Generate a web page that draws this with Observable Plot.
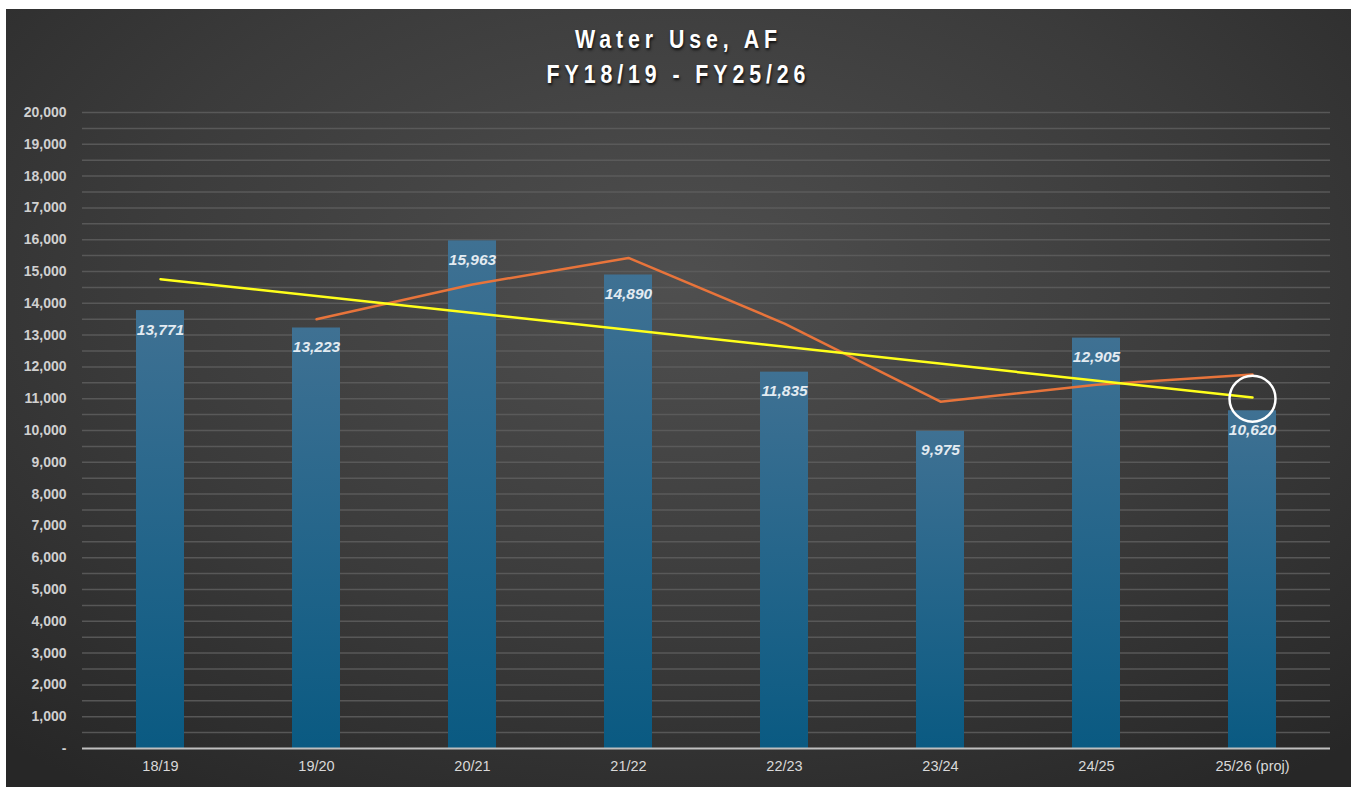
<!DOCTYPE html>
<html>
<head>
<meta charset="utf-8">
<script src="https://cdn.jsdelivr.net/npm/d3@7"></script>
<script src="https://cdn.jsdelivr.net/npm/@observablehq/plot@0.6"></script>
<style>
  html, body { margin: 0; padding: 0; background: #ffffff; }
  #frame {
    position: absolute; left: 6px; top: 9px; width: 1345px; height: 778px;
    background: radial-gradient(ellipse 75% 80% at 50% 35%, #4f4f4f 0%, #3b3b3b 55%, #272727 100%);
    overflow: hidden;
    font-family: "Liberation Sans", Arial, sans-serif;
  }
  .title {
    position: absolute; left: 0; width: 100%; text-align: center;
    color: #ffffff; font-weight: bold; font-size: 26px; letter-spacing: 6px;
    text-shadow: 1px 2px 3px rgba(0,0,0,0.8);
    transform: scaleX(0.82); transform-origin: 50% 50%;
    font-family: "Liberation Sans", Arial, sans-serif;
  }
  #chart { position: absolute; left: 0; top: 81px; }
</style>
</head>
<body>
<div id="frame">
  <div class="title" style="top:15px;">Water Use, AF</div>
  <div class="title" style="top:50px;">FY18/19 - FY25/26</div>
  <div id="chart"></div>
</div>
<script>
// ---- data ----
const categories = ["18/19", "19/20", "20/21", "21/22", "22/23", "23/24", "24/25", "25/26 (proj)"];
const waterUse = [13771, 13223, 15963, 14890, 11835, 9975, 12905, 10620];
// orange line (2-period moving average), starts at 19/20
const avgCategories = ["19/20", "20/21", "21/22", "22/23", "23/24", "24/25", "25/26 (proj)"];
const avgValues = [13497, 14593, 15427, 13363, 10905, 11440, 11763];
// yellow trend line endpoints
const trendCategories = ["18/19", "25/26 (proj)"];
const trendValues = [14759, 11037];
// highlight circle
const circleCategories = ["25/26 (proj)"];
const circleValues = [11000];
const yTicks = d3.range(0, 20001, 1000);
const gridTicks = d3.range(500, 20001, 500);

const bars = categories.map((c, i) => ({cat: c, value: waterUse[i]}));
const avg = avgCategories.map((c, i) => ({cat: c, value: avgValues[i]}));
const trend = trendCategories.map((c, i) => ({cat: c, value: trendValues[i]}));
const circ = circleCategories.map((c, i) => ({cat: c, value: circleValues[i]}));

const plot = Plot.plot({
  width: 1345,
  height: 697,
  marginTop: 22,
  marginBottom: 39,
  marginLeft: 76,
  marginRight: 21,
  style: {background: "transparent", color: "#d9d9d9", fontFamily: "'Liberation Sans', Arial, sans-serif", overflow: "visible"},
  x: {domain: categories, paddingInner: 0.69, paddingOuter: 0.345, label: null},
  y: {domain: [0, 20000], label: null},
  marks: [
    Plot.ruleY(gridTicks, {stroke: "#5e5e5e", strokeWidth: 1.5, strokeOpacity: 0.85}),
    Plot.barY(bars, {x: "cat", y: "value", fill: "url(#barGrad)"}),
    Plot.ruleY([0], {stroke: "#bfbfbf", strokeWidth: 2}),
    Plot.axisY({ticks: yTicks, tickSize: 0, tickPadding: 16, fontSize: 14, fontWeight: "bold", fill: "#d0d0d0",
      tickFormat: d => d === 0 ? "-" : d3.format(",")(d)}),
    Plot.axisX({tickSize: 0, tickPadding: 12, fontSize: 14.5, fill: "#d9d9d9"}),
    Plot.text(bars, {x: "cat", y: "value", text: d => d3.format(",")(d.value), dy: 19,
      fill: "#e3ebf1", fontSize: 15.5, fontWeight: "bold", fontStyle: "italic"}),
    Plot.line(avg, {x: "cat", y: "value", stroke: "#e8743b", strokeWidth: 2.5}),
    Plot.line(trend, {x: "cat", y: "value", stroke: "#ffff1a", strokeWidth: 2.5}),
    Plot.dot(circ, {x: "cat", y: "value", r: 23, stroke: "#ffffff", strokeWidth: 2.5, fill: "none"})
  ]
});

const defs = d3.select(plot).insert("defs", ":first-child");
const g = defs.append("linearGradient").attr("id", "barGrad").attr("x1", 0).attr("y1", 0).attr("x2", 0).attr("y2", 1);
g.append("stop").attr("offset", "0%").attr("stop-color", "#3f7193");
g.append("stop").attr("offset", "100%").attr("stop-color", "#0a5a82");

document.getElementById("chart").appendChild(plot);
</script>
</body>
</html>
